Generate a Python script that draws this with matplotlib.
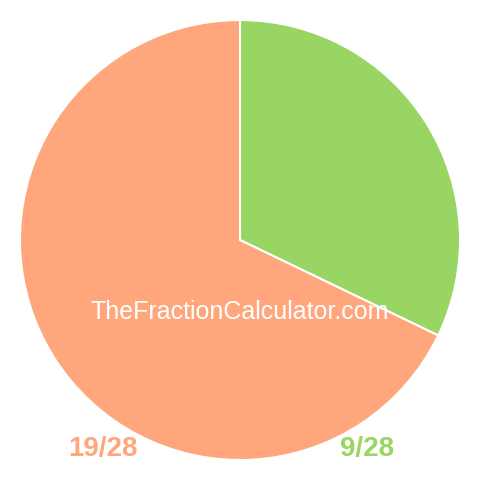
import matplotlib.pyplot as plt

labels = ['9/28', '19/28']
values = [9, 19]
colors = ['#99d562', '#ffa67c']

fig = plt.figure(figsize=(4.8, 4.8), dpi=100)
ax = fig.add_axes([0, 0, 1, 1])

# pixel coords, y measured from the bottom
ax.pie(values, colors=colors, startangle=90, counterclock=False,
       radius=220, center=(240, 240),
       wedgeprops=dict(edgecolor='white', linewidth=1.5))

ax.set_xlim(0, 480)
ax.set_ylim(0, 480)
ax.set_aspect('equal')
ax.axis('off')

ax.text(240, 480 - 312, 'TheFractionCalculator.com', color='white', fontsize=18,
        family='Liberation Sans', ha='center', va='center')

ax.text(103.5, 480 - 449, labels[1], color=colors[1], fontsize=20, fontweight='bold',
        family='Liberation Sans', ha='center', va='center')
ax.text(367.5, 480 - 449, labels[0], color=colors[0], fontsize=20, fontweight='bold',
        family='Liberation Sans', ha='center', va='center')

plt.savefig('out.png', dpi=100)
